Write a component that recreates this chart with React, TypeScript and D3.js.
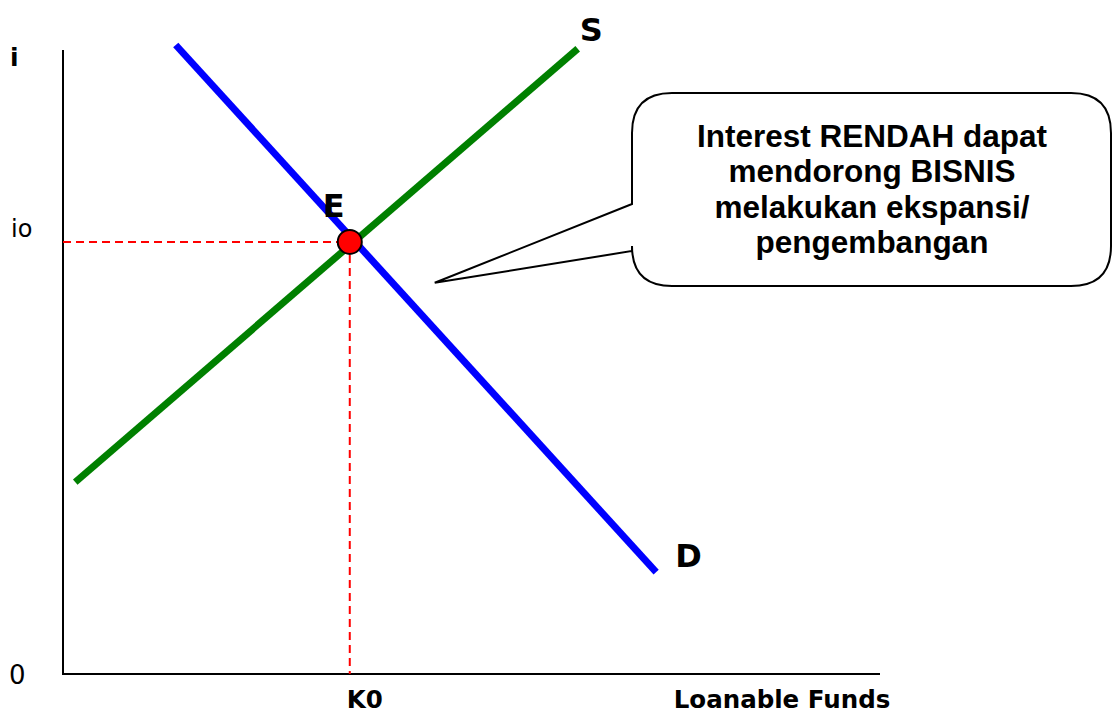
import React, { useEffect, useRef } from 'react';
import * as d3 from 'd3';

// Interest-rate (y) vs loanable funds (x), domain units 0..100
const supplyPoints: [number, number][] = [[1.5, 30.5], [63.0, 99.4]];
const demandPoints: [number, number][] = [[13.8, 100], [72.6, 16.2]];
const equilibrium = { x: 35.1, y: 68.7, label: 'E' };
const calloutTip = { x: 45.5, y: 62.2 };
const calloutLines = ['Interest RENDAH dapat', 'mendorong BISNIS', 'melakukan ekspansi/', 'pengembangan'];
const axisLabels = { y: 'i', yEq: 'io', origin: '0', xEq: 'K0', x: 'Loanable Funds' };

const W = 1113;
const H = 713;

export default function App() {
  const svgRef = useRef<SVGSVGElement>(null);

  useEffect(() => {
    if (!svgRef.current) return;
    const svg = d3.select(svgRef.current);
    svg.selectAll('*').remove();

    const x = d3.scaleLinear().domain([0, 100]).range([63, 880]);
    const y = d3.scaleLinear().domain([0, 100]).range([674, 45]);
    const labelFont = '"DejaVu Sans", Verdana, sans-serif';

    // Axes
    svg.append('path')
      .attr('d', `M${x(0)},${y(99.2)} L${x(0)},${y(0)} L${x(100)},${y(0)}`)
      .attr('fill', 'none')
      .attr('stroke', '#000')
      .attr('stroke-width', 2);

    // Dashed guides
    svg.append('line')
      .attr('x1', x(0)).attr('x2', x(equilibrium.x))
      .attr('y1', y(equilibrium.y)).attr('y2', y(equilibrium.y))
      .attr('stroke', '#ff0000').attr('stroke-width', 2).attr('stroke-dasharray', '8,5');
    svg.append('line')
      .attr('x1', x(equilibrium.x)).attr('x2', x(equilibrium.x))
      .attr('y1', y(equilibrium.y)).attr('y2', y(0))
      .attr('stroke', '#ff0000').attr('stroke-width', 2).attr('stroke-dasharray', '8,5');

    const line = d3.line<[number, number]>().x(d => x(d[0])).y(d => y(d[1]));

    svg.append('path')
      .attr('d', line(demandPoints))
      .attr('stroke', '#0000ff').attr('stroke-width', 7).attr('fill', 'none');
    svg.append('path')
      .attr('d', line(supplyPoints))
      .attr('stroke', '#008000').attr('stroke-width', 7).attr('fill', 'none');

    svg.append('circle')
      .attr('cx', x(equilibrium.x)).attr('cy', y(equilibrium.y)).attr('r', 12)
      .attr('fill', '#ff0000').attr('stroke', '#000').attr('stroke-width', 2);

    // Labels
    const txt = (t: string, px: number, py: number, size: number, weight: string, anchor = 'start') =>
      svg.append('text')
        .attr('x', px).attr('y', py)
        .attr('font-family', labelFont)
        .attr('font-size', size)
        .attr('font-weight', weight)
        .attr('text-anchor', anchor)
        .attr('fill', '#000')
        .text(t);

    txt(axisLabels.y, 10, 66, 25, 'bold');
    txt(axisLabels.yEq, 11, 237, 24, 'normal');
    txt(axisLabels.origin, 9, 684, 26, 'normal');
    txt(axisLabels.xEq, x(equilibrium.x) + 15, 708, 24.5, 'bold', 'middle');
    txt(axisLabels.x, 782, 708, 24.5, 'bold', 'middle');
    txt('S', x(supplyPoints[1][0]) + 2, 41, 32, 'bold');
    txt('D', x(demandPoints[1][0]) + 19, 567, 32, 'bold');
    txt(equilibrium.label, x(equilibrium.x) - 27, 217, 32, 'bold');

    // Callout bubble
    const tx = x(calloutTip.x), ty = y(calloutTip.y);
    const L = 632, R = 1111, T = 93, B = 286, r = 40;
    const p = d3.path();
    p.moveTo(L + r, T);
    p.lineTo(R - r, T);
    p.quadraticCurveTo(R, T, R, T + r);
    p.lineTo(R, B - r);
    p.quadraticCurveTo(R, B, R - r, B);
    p.lineTo(L + r, B);
    p.quadraticCurveTo(L, B, L, B - r);
    p.lineTo(L, 251);
    p.lineTo(tx, ty);
    p.lineTo(L, 204);
    p.lineTo(L, T + r);
    p.quadraticCurveTo(L, T, L + r, T);
    p.closePath();
    svg.append('path')
      .attr('d', p.toString())
      .attr('fill', '#fff').attr('stroke', '#000').attr('stroke-width', 2);

    calloutLines.forEach((l, i) => {
      svg.append('text')
        .attr('x', 872).attr('y', 147 + i * 35.3)
        .attr('font-family', '"Liberation Sans", Arial, sans-serif')
        .attr('font-size', 31.5)
        .attr('font-weight', 'bold')
        .attr('text-anchor', 'middle')
        .attr('fill', '#000')
        .text(l);
    });
  }, []);

  return (
    <svg ref={svgRef} width={W} height={H} style={{ position: 'absolute', left: 0, top: 0, background: '#fff' }} />
  );
}
